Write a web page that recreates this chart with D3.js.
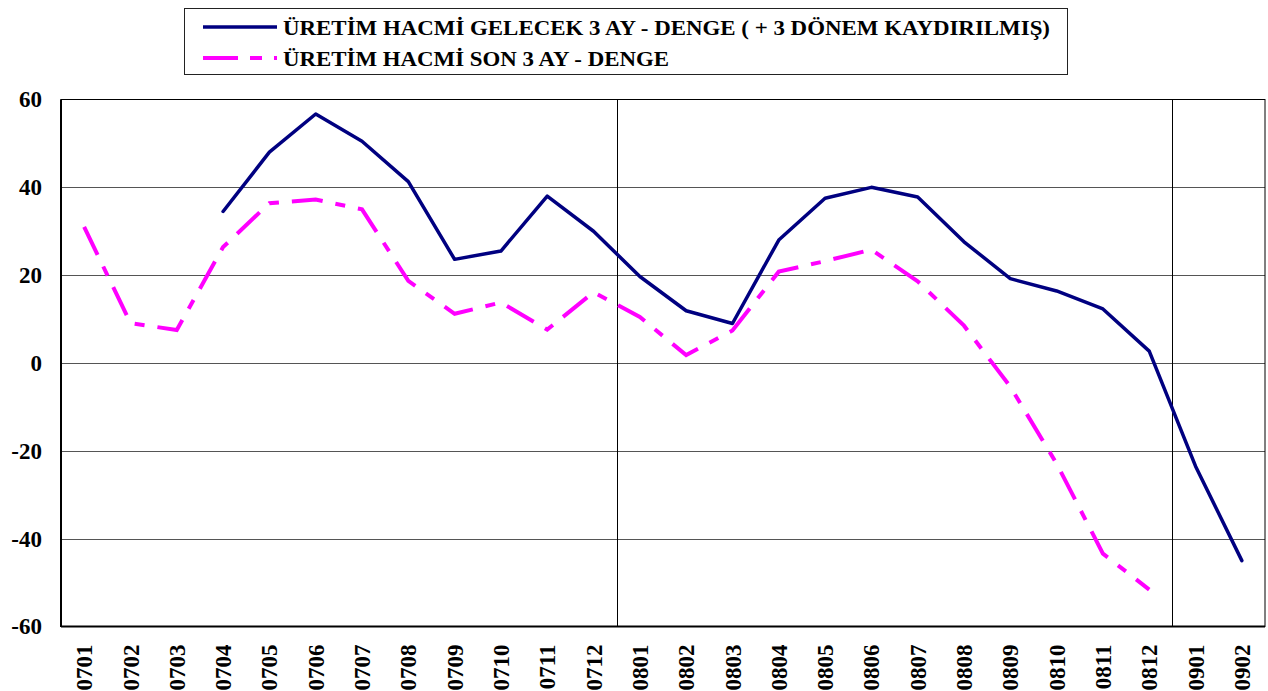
<!DOCTYPE html>
<html><head><meta charset="utf-8">
<script src="https://cdn.jsdelivr.net/npm/d3@7"></script>
<style>body{margin:0;background:#fff}svg{display:block}</style>
</head><body>
<svg id="c" width="1268" height="691"></svg>
<script>
const categories = ["0701","0702","0703","0704","0705","0706","0707","0708","0709","0710","0711","0712",
  "0801","0802","0803","0804","0805","0806","0807","0808","0809","0810","0811","0812","0901","0902"];
const seriesNames = ["ÜRETİM HACMİ GELECEK 3 AY - DENGE ( + 3 DÖNEM KAYDIRILMIŞ)", "ÜRETİM HACMİ SON 3 AY - DENGE"];
const expected = [null,null,null,34.5,48.0,56.7,50.5,41.3,23.6,25.5,38.0,30.0,
  19.7,11.9,9.0,28.0,37.5,40.0,37.8,27.6,19.2,16.4,12.3,2.7,-23.5,-45.0];
const actual = [31.0,9.1,7.5,26.4,36.4,37.2,35.0,18.7,11.2,13.8,7.6,16.1,
  10.5,1.8,7.4,20.8,23.2,25.8,18.6,8.5,-5.4,-22.9,-43.4,-51.6,null,null];
const yTicks = [60,40,20,0,-20,-40,-60];
const yearDividers = ["0801","0901"];

const FONT = "'Liberation Serif', 'Times New Roman', serif";
const svg = d3.select("#c");
const L = 61, R = 1265, T = 99.5, B = 626.5;
const x = d3.scaleBand().domain(categories).range([L, R]).padding(0);
const cx = c => x(c) + x.bandwidth()/2;
const y = d3.scaleLinear().domain([-60, 60]).range([B, T]);

// gridlines
svg.append("g").selectAll("line").data(yTicks.filter(v => v !== 60 && v !== -60)).join("line")
  .attr("x1", L).attr("x2", R).attr("y1", d => Math.round(y(d))+0.5).attr("y2", d => Math.round(y(d))+0.5)
  .attr("stroke", "#555").attr("stroke-width", 1);
svg.append("g").selectAll("line").data(yearDividers).join("line")
  .attr("x1", d => Math.round(x(d))+0.5).attr("x2", d => Math.round(x(d))+0.5).attr("y1", T).attr("y2", B)
  .attr("stroke", "#000").attr("stroke-width", 1);
// frame
svg.append("rect").attr("x", L).attr("y", T).attr("width", R-L).attr("height", B-T)
  .attr("fill", "none").attr("stroke", "#000").attr("stroke-width", 1);
svg.append("line").attr("x1", L).attr("x2", L).attr("y1", T).attr("y2", B+0.5).attr("stroke","#000").attr("stroke-width",2);
svg.append("line").attr("x1", L).attr("x2", R).attr("y1", B).attr("y2", B).attr("stroke","#000").attr("stroke-width",2);

// y axis
const ya = svg.append("g").attr("transform", `translate(${L},0)`)
  .call(d3.axisLeft(y).tickValues(yTicks).tickSize(0).tickPadding(19).tickFormat(d => String(d)));
ya.select(".domain").remove();
ya.attr("font-family", FONT).attr("font-size", 23).attr("font-weight", "bold");
ya.selectAll("text").attr("fill", "#000");

// x axis
const xa = svg.append("g").attr("transform", `translate(0,${B})`)
  .call(d3.axisBottom(x).tickSize(0));
xa.select(".domain").remove();
xa.attr("font-family", FONT).attr("font-size", 23).attr("font-weight", "bold");
xa.selectAll("text").attr("fill", "#000")
  .attr("transform", "translate(0,18) rotate(-90)").attr("text-anchor", "end").attr("x", 0).attr("y", 0).attr("dy", "0.35em");

// lines
const line = d3.line().defined(d => d.v !== null).x(d => cx(d.c)).y(d => y(d.v));
const toPts = arr => categories.map((c, i) => ({c, v: arr[i]}));
svg.append("path").datum(toPts(actual)).attr("d", line).attr("fill", "none")
  .attr("stroke", "#FF00FF").attr("stroke-width", 4).attr("stroke-dasharray", "31,13,10,13");
svg.append("path").datum(toPts(expected)).attr("d", line).attr("fill", "none")
  .attr("stroke", "#000080").attr("stroke-width", 3.5).attr("stroke-linejoin", "round").attr("stroke-linecap", "round");

// legend
const lg = svg.append("g").attr("font-family", FONT).attr("font-weight", "bold").attr("font-size", 22);
lg.append("rect").attr("x", 184.5).attr("y", 8.5).attr("width", 883).attr("height", 66)
  .attr("fill", "#fff").attr("stroke", "#222").attr("stroke-width", 1);
const items = [{name: seriesNames[0], color: "#000080", dash: null, w: 3.5, ly: 27, ty: 35, len: 767},
               {name: seriesNames[1], color: "#FF00FF", dash: "35,12,12,12", w: 4, ly: 58, ty: 66, len: 386}];
items.forEach(it => {
  lg.append("line").attr("x1", 203).attr("x2", 277).attr("y1", it.ly).attr("y2", it.ly)
    .attr("stroke", it.color).attr("stroke-width", it.w).attr("stroke-dasharray", it.dash);
  lg.append("text").attr("x", 283).attr("y", it.ty).text(it.name).attr("fill", "#000")
    .attr("textLength", it.len).attr("lengthAdjust", "spacingAndGlyphs");
});
</script>
</body></html>
